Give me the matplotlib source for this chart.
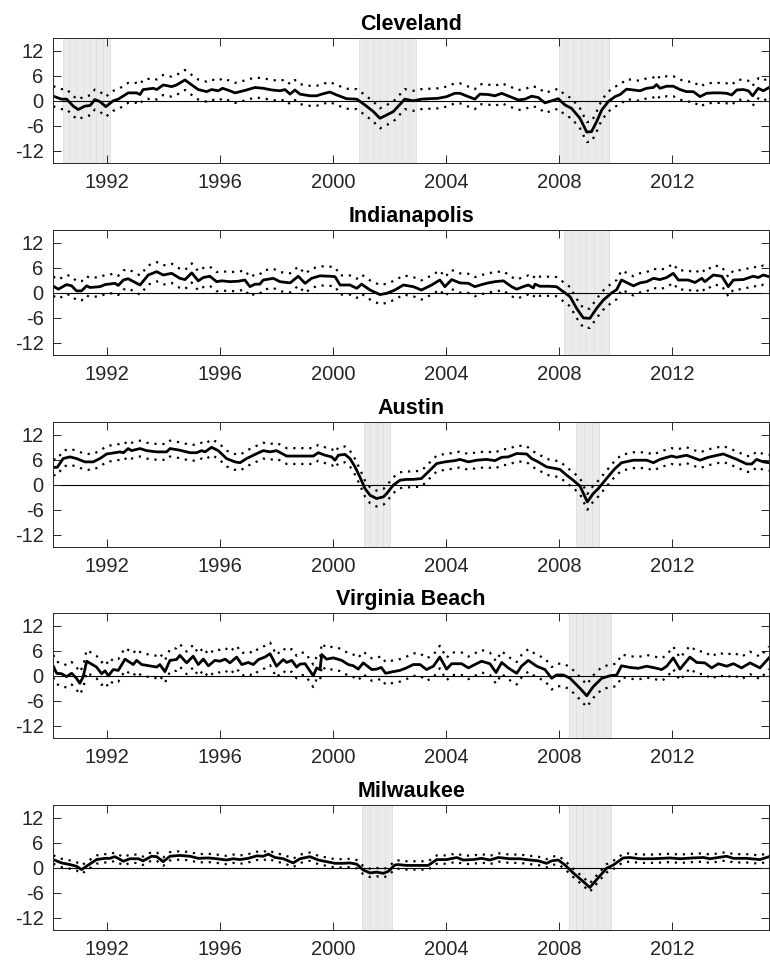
import matplotlib
matplotlib.use("Agg")
import matplotlib.pyplot as plt
import numpy as np

plt.rcParams["font.family"] = ["Liberation Sans", "DejaVu Sans"]
plt.rcParams["axes.unicode_minus"] = False

# ---- data: annualised growth estimates with confidence bands ----
cities = ["Cleveland", "Indianapolis", "Austin", "Virginia Beach", "Milwaukee"]

cleveland_years = [
    1990.09, 1990.38, 1990.56, 1990.80, 1990.97, 1991.20, 1991.40, 1991.56, 1991.74, 1991.95,
    1992.21, 1992.39, 1992.74, 1993.04, 1993.16, 1993.27, 1993.63, 1993.75, 1993.98, 1994.28,
    1994.45, 1994.75, 1994.99, 1995.22, 1995.52, 1995.69, 1995.93, 1996.08, 1996.34, 1996.52,
    1996.70, 1996.93, 1997.23, 1997.52, 1997.82, 1998.11, 1998.29, 1998.47, 1998.64, 1998.82,
    1999.17, 1999.41, 1999.59, 1999.88, 2000.12, 2000.47, 2000.83, 2001.12, 2001.42, 2001.65,
    2001.89, 2002.12, 2002.30, 2002.53, 2002.83, 2003.12, 2003.42, 2003.71, 2004.01, 2004.30,
    2004.48, 2004.78, 2005.01, 2005.19, 2005.48, 2005.72, 2005.96, 2006.25, 2006.55, 2006.78,
    2007.02, 2007.25, 2007.49, 2007.73, 2007.96, 2008.20, 2008.43, 2008.73, 2008.97, 2009.14,
    2009.32, 2009.50, 2009.73, 2009.97, 2010.15, 2010.38, 2010.62, 2010.85, 2011.09, 2011.33,
    2011.44, 2011.56, 2011.80, 2012.03, 2012.27, 2012.50, 2012.74, 2012.98, 2013.21, 2013.45,
    2013.69, 2013.92, 2014.10, 2014.28, 2014.51, 2014.69, 2014.84, 2015.04, 2015.22, 2015.42,
]
cleveland_growth = [
    1.1, 0.4, 0.4, -1.3, -2.1, -1.3, -1.1, 0.3, -0.2, -1.4,
    0.0, 0.4, 1.9, 1.9, 1.5, 2.7, 3.0, 2.7, 3.8, 3.4,
    3.8, 5.0, 3.8, 2.7, 2.2, 2.7, 2.4, 3.0, 2.4, 1.9,
    2.2, 2.6, 3.2, 3.0, 2.6, 2.4, 2.7, 1.6, 2.6, 1.6,
    1.2, 1.2, 1.6, 2.1, 1.4, 0.5, 0.4, -1.0, -2.6, -4.2,
    -3.4, -2.6, -1.3, 0.4, 0.0, 0.4, 0.5, 0.6, 1.0, 1.8,
    1.8, 1.0, 0.4, 1.6, 1.5, 1.2, 1.8, 1.0, 0.2, 0.4,
    1.1, 0.8, -0.5, 0.0, 0.5, -1.0, -1.8, -4.2, -7.5, -7.4,
    -5.0, -2.2, -0.2, 1.0, 1.5, 2.8, 2.6, 2.4, 3.0, 3.2,
    3.9, 3.0, 3.5, 3.5, 2.7, 2.2, 2.2, 1.0, 1.8, 1.9,
    1.9, 1.8, 1.4, 2.6, 2.7, 2.4, 1.2, 3.0, 2.4, 3.2,
]

indianapolis_years = [
    1990.09, 1990.27, 1990.56, 1990.74, 1990.91, 1991.09, 1991.27, 1991.39, 1991.74, 1991.92,
    1992.27, 1992.39, 1992.57, 1992.74, 1993.16, 1993.45, 1993.75, 1993.98, 1994.28, 1994.57,
    1994.75, 1994.99, 1995.22, 1995.40, 1995.63, 1995.87, 1996.05, 1996.34, 1996.64, 1996.87,
    1997.05, 1997.23, 1997.40, 1997.52, 1997.88, 1998.11, 1998.47, 1998.76, 1999.00, 1999.23,
    1999.53, 1999.88, 2000.06, 2000.24, 2000.59, 2000.83, 2001.00, 2001.30, 2001.65, 2001.89,
    2002.18, 2002.48, 2002.83, 2003.12, 2003.48, 2003.77, 2003.95, 2004.19, 2004.48, 2004.78,
    2005.01, 2005.25, 2005.48, 2005.72, 2006.02, 2006.31, 2006.49, 2006.72, 2006.90, 2007.08,
    2007.14, 2007.31, 2007.61, 2007.90, 2008.14, 2008.38, 2008.61, 2008.85, 2009.08, 2009.32,
    2009.56, 2009.85, 2010.03, 2010.20, 2010.44, 2010.62, 2010.85, 2011.09, 2011.33, 2011.56,
    2011.80, 2012.03, 2012.21, 2012.56, 2012.80, 2013.04, 2013.15, 2013.45, 2013.75, 2013.98,
    2014.16, 2014.51, 2014.86, 2015.04, 2015.22, 2015.42,
]
indianapolis_growth = [
    1.5, 0.8, 1.9, 1.6, 0.4, 0.4, 1.6, 1.2, 1.4, 1.9,
    2.2, 1.7, 3.0, 3.3, 1.8, 4.2, 5.0, 4.2, 4.6, 3.4,
    3.1, 4.7, 2.8, 3.6, 3.9, 2.6, 2.8, 2.6, 2.7, 3.0,
    1.4, 2.0, 2.0, 3.0, 3.4, 2.6, 2.3, 3.9, 2.2, 3.4,
    4.0, 3.9, 3.8, 1.8, 1.8, 1.0, 2.0, 0.6, -0.5, -0.2,
    0.6, 1.8, 1.4, 0.6, 1.8, 3.0, 1.4, 3.1, 2.3, 2.2,
    1.4, 1.9, 2.3, 2.6, 2.8, 1.4, 0.8, 1.4, 1.8, 1.1,
    2.0, 1.5, 1.5, 1.4, 0.2, -1.0, -3.8, -6.1, -6.2, -3.8,
    -1.8, -0.1, 0.7, 3.0, 2.2, 1.6, 2.3, 2.6, 3.4, 3.1,
    3.6, 4.6, 3.0, 3.0, 2.4, 3.4, 2.6, 4.2, 3.9, 1.4,
    3.0, 3.1, 3.9, 3.6, 4.2, 3.8,
]

austin_years = [
    1990.09, 1990.23, 1990.44, 1990.68, 1990.91, 1991.21, 1991.50, 1991.74, 1991.98, 1992.27,
    1992.45, 1992.57, 1992.74, 1992.86, 1993.16, 1993.39, 1993.75, 1994.10, 1994.22, 1994.57,
    1994.93, 1995.16, 1995.34, 1995.46, 1995.69, 1995.93, 1996.22, 1996.52, 1996.70, 1996.93,
    1997.17, 1997.52, 1997.76, 1997.99, 1998.35, 1998.58, 1998.94, 1999.29, 1999.47, 1999.71,
    1999.94, 2000.06, 2000.18, 2000.41, 2000.59, 2000.77, 2000.94, 2001.12, 2001.30, 2001.53,
    2001.77, 2001.89, 2002.12, 2002.36, 2002.59, 2002.83, 2003.12, 2003.36, 2003.66, 2003.95,
    2004.30, 2004.48, 2004.78, 2005.07, 2005.43, 2005.72, 2005.96, 2006.19, 2006.49, 2006.84,
    2007.02, 2007.25, 2007.55, 2008.02, 2008.26, 2008.49, 2008.73, 2008.99, 2009.20, 2009.38,
    2009.67, 2009.97, 2010.20, 2010.62, 2011.09, 2011.33, 2011.56, 2011.97, 2012.15, 2012.50,
    2012.98, 2013.27, 2013.80, 2014.28, 2014.63, 2014.81, 2014.98, 2015.22, 2015.42,
]
austin_growth = [
    4.2, 4.2, 6.3, 6.7, 6.3, 5.5, 5.5, 6.3, 7.4, 7.7,
    7.9, 7.7, 8.7, 8.2, 8.7, 8.2, 7.9, 7.9, 8.7, 8.3,
    7.7, 7.7, 8.2, 7.9, 9.0, 8.2, 6.3, 5.5, 5.3, 6.3,
    7.1, 8.2, 7.9, 8.2, 6.9, 6.9, 6.9, 6.9, 7.7, 7.1,
    6.7, 5.9, 7.1, 7.3, 6.3, 4.3, 1.9, -0.9, -2.5, -3.3,
    -2.9, -2.1, -0.1, 1.1, 1.3, 1.3, 1.5, 3.1, 5.1, 5.5,
    5.8, 6.1, 5.5, 5.9, 6.1, 5.8, 6.6, 6.7, 7.5, 7.4,
    6.3, 5.5, 4.3, 3.7, 2.3, 1.1, -0.3, -4.1, -2.1, -0.9,
    1.5, 3.9, 5.3, 5.9, 5.9, 5.3, 6.1, 6.9, 6.6, 7.1,
    5.9, 6.6, 7.4, 6.1, 5.0, 5.0, 6.1, 5.5, 5.3,
]

virginia_beach_years = [
    1990.09, 1990.21, 1990.38, 1990.56, 1990.74, 1990.91, 1991.03, 1991.15, 1991.27, 1991.62,
    1991.80, 1991.92, 1992.04, 1992.21, 1992.39, 1992.63, 1992.92, 1993.04, 1993.22, 1993.75,
    1993.86, 1994.04, 1994.22, 1994.45, 1994.57, 1994.81, 1995.04, 1995.22, 1995.40, 1995.58,
    1995.81, 1995.99, 1996.17, 1996.34, 1996.58, 1996.76, 1996.99, 1997.17, 1997.35, 1997.58,
    1997.76, 1997.99, 1998.23, 1998.35, 1998.53, 1998.70, 1998.82, 1999.00, 1999.23, 1999.29,
    1999.41, 1999.53, 1999.59, 1999.76, 2000.00, 2000.30, 2000.53, 2000.71, 2000.88, 2001.06,
    2001.36, 2001.53, 2001.70, 2001.85, 2002.12, 2002.36, 2002.59, 2002.83, 2003.07, 2003.30,
    2003.54, 2003.77, 2004.01, 2004.19, 2004.54, 2004.78, 2005.01, 2005.25, 2005.54, 2005.76,
    2005.96, 2006.19, 2006.49, 2006.66, 2006.90, 2007.20, 2007.49, 2007.73, 2007.90, 2008.14,
    2008.38, 2008.73, 2008.97, 2009.20, 2009.50, 2009.79, 2010.03, 2010.20, 2010.50, 2010.79,
    2011.09, 2011.38, 2011.62, 2011.80, 2012.03, 2012.27, 2012.62, 2012.86, 2013.15, 2013.39,
    2013.63, 2013.92, 2014.16, 2014.45, 2014.75, 2015.10, 2015.42,
]
virginia_beach_growth = [
    2.3, 0.6, 0.5, -0.2, 0.6, -0.6, -1.8, -0.2, 3.5, 2.1,
    0.5, 1.2, 0.0, 1.5, 1.3, 4.0, 2.7, 3.7, 2.7, 2.1,
    2.7, 1.0, 3.7, 3.9, 4.9, 3.1, 4.7, 2.7, 4.0, 2.4,
    3.7, 3.5, 4.0, 3.1, 4.5, 2.7, 3.2, 2.7, 3.9, 4.5,
    5.3, 2.3, 3.9, 3.2, 3.7, 2.1, 2.8, 2.9, 0.6, 0.0,
    1.9, 1.5, 5.1, 4.0, 4.3, 3.7, 2.7, 2.4, 1.6, 3.1,
    1.5, 1.6, 2.0, 0.6, 1.0, 1.3, 1.9, 2.7, 2.7, 1.5,
    2.3, 4.5, 1.6, 2.9, 2.9, 1.9, 2.7, 3.5, 2.9, 0.8,
    3.2, 1.9, 0.6, 2.3, 3.7, 2.3, 1.5, -0.6, 0.2, 0.2,
    -0.6, -3.0, -4.8, -2.6, -0.6, 0.0, 0.2, 2.4, 2.0, 1.8,
    2.3, 1.9, 1.5, 2.3, 4.3, 1.6, 4.5, 3.2, 3.1, 1.9,
    2.9, 2.3, 2.9, 1.9, 3.1, 1.9, 4.3,
]

milwaukee_years = [
    1990.09, 1990.38, 1990.68, 1990.91, 1991.09, 1991.33, 1991.62, 1991.92, 1992.09, 1992.27,
    1992.57, 1992.80, 1993.10, 1993.27, 1993.57, 1993.75, 1993.98, 1994.22, 1994.57, 1994.93,
    1995.22, 1995.58, 1995.87, 1996.22, 1996.46, 1996.70, 1996.99, 1997.29, 1997.52, 1997.70,
    1997.94, 1998.23, 1998.58, 1998.82, 1999.17, 1999.47, 1999.76, 2000.06, 2000.35, 2000.59,
    2000.83, 2001.06, 2001.30, 2001.53, 2001.77, 2001.95, 2002.18, 2002.30, 2002.59, 2002.95,
    2003.36, 2003.66, 2004.01, 2004.37, 2004.60, 2004.95, 2005.25, 2005.54, 2005.84, 2006.25,
    2006.61, 2006.96, 2007.25, 2007.55, 2007.73, 2007.96, 2008.20, 2008.49, 2008.85, 2009.08,
    2009.32, 2009.67, 2009.91, 2010.26, 2010.50, 2010.85, 2011.33, 2011.92, 2012.27, 2012.74,
    2013.10, 2013.33, 2013.92, 2014.16, 2014.63, 2015.10, 2015.42,
]
milwaukee_growth = [
    1.9, 1.1, 0.7, 0.3, -0.5, 0.6, 1.9, 2.2, 2.2, 2.6,
    1.5, 2.1, 2.1, 1.6, 2.7, 2.6, 1.4, 2.7, 2.9, 2.7,
    2.2, 2.3, 2.1, 1.8, 2.1, 1.9, 2.2, 2.8, 2.7, 3.2,
    2.4, 2.1, 1.1, 2.1, 2.6, 1.8, 1.4, 1.0, 1.0, 1.1,
    0.8, -0.6, -1.3, -1.1, -1.4, -0.9, 0.6, 0.7, 0.5, 0.5,
    0.5, 1.9, 1.9, 2.4, 1.8, 1.9, 2.2, 1.8, 2.4, 2.1,
    2.1, 1.8, 1.6, 1.0, 1.6, 1.8, 0.6, -1.3, -3.4, -4.8,
    -2.9, -0.2, 0.6, 2.3, 2.4, 2.1, 2.1, 2.3, 2.1, 2.3,
    2.4, 2.1, 2.7, 2.2, 2.2, 1.9, 2.6,
]

# half-width of the confidence band around each estimate
band_halfwidth = [2.4, 2.3, 1.9, 2.7, 1.0]

# local recession periods (start, end) in decimal years
recessions = [
    [(1990.42, 1992.09), (2000.91, 2002.92), (2008.00, 2009.75)],
    [(2008.17, 2009.75)],
    [(2001.09, 2001.99), (2008.59, 2009.42)],
    [(2008.34, 2009.82)],
    [(2001.02, 2002.08), (2008.34, 2009.82)],
]

years = [cleveland_years, indianapolis_years, austin_years,
         virginia_beach_years, milwaukee_years]
growth = [cleveland_growth, indianapolis_growth, austin_growth,
          virginia_beach_growth, milwaukee_growth]

x_ticks = [1992, 1996, 2000, 2004, 2008, 2012]
y_ticks = [-12, -6, 0, 6, 12]

# ---- figure ----
W, H = 770, 964
fig = plt.figure(figsize=(W / 100, H / 100), dpi=100)
ax_left = 53.3 / W
ax_width = (769 - 53.3) / W
ax_height_px = 125
ax_tops_px = [38.3, 230.0, 422.3, 613.3, 805.0]
axis_color = "#262626"

for i, city in enumerate(cities):
    top = ax_tops_px[i]
    ax = fig.add_axes([ax_left, 1 - (top + ax_height_px) / H,
                       ax_width, ax_height_px / H])

    # recession shading, built from quarterly bars
    for start, end in recessions[i]:
        n = max(1, int(round((end - start) / 0.25)))
        w = (end - start) / n
        xs = start + w * np.arange(n)
        ax.bar(xs, 30, bottom=-15, width=w, align="edge",
               color="#ebebeb", edgecolor="#e1e1e1", linewidth=0.7, zorder=0)

    ax.axhline(0, color="black", linewidth=0.8, zorder=1)

    t = np.array(years[i])
    v = np.array(growth[i])
    hw = band_halfwidth[i]
    ax.plot(t, v + hw, color="black", linewidth=1.6,
            linestyle=(0, (1, 2.6)), dash_capstyle="butt", zorder=2)
    ax.plot(t, v - hw, color="black", linewidth=1.6,
            linestyle=(0, (1, 2.6)), dash_capstyle="butt", zorder=2)
    ax.plot(t, v, color="black", linewidth=2.0, zorder=3)

    ax.set_xlim(1990.09, 2015.42)
    ax.set_ylim(-15, 15)
    ax.set_xticks(x_ticks)
    ax.set_xticklabels([str(x) for x in x_ticks])
    ax.set_yticks(y_ticks)
    ax.set_yticklabels([str(y) for y in y_ticks])
    ax.tick_params(direction="in", top=True, right=True, length=5.5,
                   width=0.7, color=axis_color, labelcolor=axis_color,
                   labelsize=14.5, pad=7)
    for sp in ax.spines.values():
        sp.set_color(axis_color)
        sp.set_linewidth(0.7)
        sp.set_zorder(5)

    ax.set_title(city, fontsize=15.5, fontweight="bold", pad=6, color="black")

fig.savefig("out.png", dpi=100)
